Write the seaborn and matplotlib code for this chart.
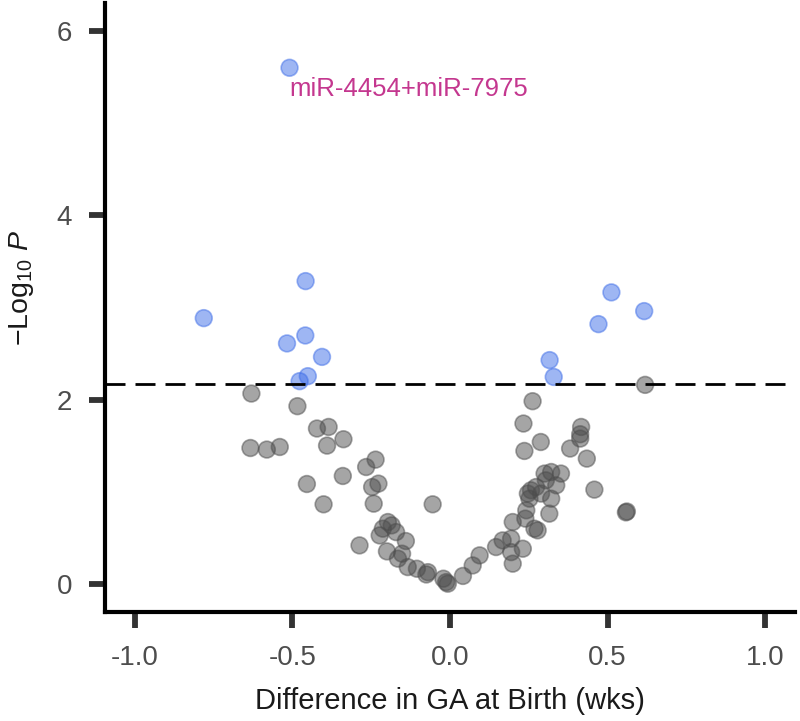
import numpy as np
import pandas as pd
import matplotlib
matplotlib.use("Agg")
import matplotlib.pyplot as plt
import seaborn as sns

# significant miRNAs (above the threshold line)
sig_x = [-0.509, -0.781, -0.458, -0.459, -0.517, -0.406, -0.451, -0.477,
         0.512, 0.616, 0.471, 0.316, 0.329]
sig_y = [5.597, 2.885, 3.286, 2.697, 2.611, 2.465, 2.256, 2.202,
         3.164, 2.961, 2.820, 2.430, 2.248]

# non-significant miRNAs
ns_x = [-0.630, -0.484, -0.422, -0.385, -0.390, -0.338, -0.633, -0.581, -0.540,
        -0.454, -0.340, -0.266, -0.236, -0.247, -0.227, -0.401, -0.242, -0.055,
        -0.287, -0.213, -0.185, -0.171, -0.223, -0.197, -0.140, -0.200, -0.165,
        -0.152, -0.134, -0.105, -0.070, -0.075, -0.021, -0.012, -0.007, 0.041,
        0.072, 0.094, 0.146, 0.167, 0.194, 0.231, 0.194, 0.199, 0.199, 0.242,
        0.239, 0.268, 0.278, 0.315, 0.257, 0.273, 0.289, 0.321, 0.252, 0.337,
        0.300, 0.321, 0.352, 0.262, 0.233, 0.288, 0.236, 0.416, 0.413, 0.413,
        0.381, 0.434, 0.458, 0.558, 0.561, 0.619, 0.304, 0.247]
ns_y = [2.068, 1.931, 1.689, 1.706, 1.504, 1.573, 1.478, 1.461, 1.489,
        1.088, 1.175, 1.272, 1.352, 1.055, 1.092, 0.868, 0.875, 0.868,
        0.423, 0.604, 0.640, 0.567, 0.531, 0.676, 0.470, 0.358, 0.279,
        0.333, 0.188, 0.170, 0.133, 0.108, 0.062, 0.025, 0.008, 0.092,
        0.206, 0.315, 0.405, 0.477, 0.496, 0.387, 0.350, 0.225, 0.676, 0.803,
        0.713, 0.604, 0.586, 0.767, 1.020, 1.055, 0.984, 0.929, 0.929, 1.074,
        1.201, 1.218, 1.201, 1.985, 1.743, 1.543, 1.446, 1.706, 1.580, 1.627,
        1.472, 1.363, 1.027, 0.781, 0.790, 2.162, 1.128, 0.984]

threshold = 2.17
label_name = "miR-4454+miR-7975"

df = pd.DataFrame({
    "diff": sig_x + ns_x,
    "logp": sig_y + ns_y,
    "group": ["sig"] * len(sig_x) + ["ns"] * len(ns_x),
})

sns.set_style("white")
plt.rcParams["font.family"] = ["Liberation Sans", "DejaVu Sans"]
plt.rcParams["mathtext.fontset"] = "custom"
plt.rcParams["mathtext.rm"] = "Liberation Sans"
plt.rcParams["mathtext.it"] = "Liberation Sans:italic"

fig = plt.figure(figsize=(8, 7.21), dpi=100)
ax = fig.add_axes([0.131, 0.151, 0.863, 0.845])

sns.scatterplot(
    data=df, x="diff", y="logp", hue="group",
    palette={"sig": "#3f6ee8", "ns": "#4d4d4d"},
    s=145, alpha=0.5, linewidth=1.2, edgecolor="face", legend=False, ax=ax,
)

ax.axhline(threshold, color="black", lw=2.0, linestyle=(0, (7.2, 3.6)))

ax.annotate(label_name, xy=(sig_x[0], sig_y[0]), xytext=(0, -15),
            textcoords="offset points", ha="left", va="center",
            color="#c4378f", fontsize=18.5)

ax.set_xlim(-1.095, 1.095)
ax.set_ylim(-0.3, 6.3)
ax.set_xticks([-1.0, -0.5, 0.0, 0.5, 1.0])
ax.set_xticklabels(["-1.0", "-0.5", "0.0", "0.5", "1.0"])
ax.set_yticks([0, 2, 4, 6])

for side in ["top", "right"]:
    ax.spines[side].set_visible(False)
for side in ["left", "bottom"]:
    ax.spines[side].set_color("black")
    ax.spines[side].set_linewidth(3)

ax.tick_params(axis="both", direction="out", length=11.5, width=4.2,
               bottom=True, left=True,
               color="#333333", labelcolor="#4d4d4d", labelsize=20)
ax.tick_params(axis="y", pad=12)
ax.tick_params(axis="x", pad=12)

ax.set_xlabel("Difference in GA at Birth (wks)", fontsize=21, color="#1a1a1a",
              labelpad=12)
ax.set_ylabel(r"$-\mathrm{Log}_{10}\ \mathit{P}$", fontsize=20.5, color="#1a1a1a")
ax.yaxis.set_label_coords(-0.10, 0.532)

fig.savefig("out.png", dpi=100)
